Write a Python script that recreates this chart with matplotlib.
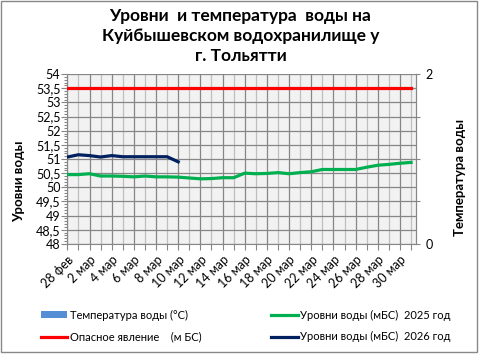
"""Уровни и температура воды на Куйбышевском водохранилище у г. Тольятти (март)."""

import matplotlib

matplotlib.use("Agg")
import matplotlib.pyplot as plt
from matplotlib.lines import Line2D
from matplotlib.patches import Patch, Rectangle
from matplotlib.ticker import FixedLocator, MultipleLocator

plt.rcParams["font.family"] = ["Lato", "DejaVu Sans"]

# 28 фев .. 31 мар
dates = ["28 фев"] + [f"{d} мар" for d in range(1, 32)]
level_2025 = [50.45, 50.45, 50.48, 50.40, 50.40, 50.39, 50.37, 50.40, 50.37, 50.37,
              50.36, 50.33, 50.30, 50.31, 50.34, 50.34, 50.50, 50.48, 50.49, 50.52,
              50.48, 50.52, 50.55, 50.63, 50.63, 50.63, 50.63, 50.71, 50.78, 50.81,
              50.85, 50.88]
level_2026 = [51.07, 51.15, 51.12, 51.07, 51.12, 51.08, 51.08, 51.08, 51.08, 51.08, 50.90]
danger_level = [53.5] * len(dates)
water_temp = []  # пока нет данных

C_TEMP = "#558ED5"
C_DANGER = "#FF0000"
C_2025 = "#00B050"
C_2026 = "#002060"

fig = plt.figure(figsize=(4.81, 3.55), dpi=100)
ax = fig.add_axes([0.140, 0.3127, 0.725, 0.4788])
ax.set_facecolor("#F2F2F2")

x = list(range(len(dates)))
ax.plot(x, danger_level, color=C_DANGER, lw=2.3, zorder=3)
ax.plot(x[:len(level_2025)], level_2025, color=C_2025, lw=2.3, zorder=3)
ax.plot(x[:len(level_2026)], level_2026, color=C_2026, lw=2.3, zorder=3)

ax.set_xlim(0, 31.45)
ax.set_ylim(48, 54)
ax.yaxis.set_major_locator(MultipleLocator(0.5))
ax.yaxis.set_minor_locator(MultipleLocator(0.1))
ax.set_yticklabels([f"{v:g}".replace(".", ",") for v in ax.get_yticks()])
ax.xaxis.set_major_locator(FixedLocator(x[::2]))
ax.xaxis.set_minor_locator(FixedLocator(x[1::2]))
ax.set_xticklabels(dates[::2], rotation=45, ha="right", rotation_mode="anchor")
ax.tick_params(axis="both", which="both", direction="out", colors="#868686",
               labelcolor="black", labelsize=9, width=0.8)
ax.tick_params(axis="x", which="both", length=4, pad=3)
ax.tick_params(axis="y", which="major", length=4, pad=1)
ax.tick_params(axis="y", which="minor", length=2)
ax.grid(True, which="major", color="#868686", lw=0.9, zorder=1)
ax.grid(True, which="minor", axis="x", color="#BFBFBF", lw=0.9, zorder=1)
for s in ax.spines.values():
    s.set_color("#868686")
ax.spines["top"].set_visible(False)
ax.set_ylabel("Уровни воды", fontsize=9.5, fontweight="bold")
ax.yaxis.set_label_coords(-0.121, 0.37)

ax2 = ax.twinx()
ax2.bar(x[:len(water_temp)], water_temp, color=C_TEMP)
ax2.set_ylim(0, 2)
ax2.yaxis.set_major_locator(FixedLocator([0, 2]))
ax2.yaxis.set_minor_locator(FixedLocator([0.5, 1, 1.5]))
ax2.tick_params(axis="y", which="both", direction="out", length=3, colors="#868686",
                labelcolor="black", labelsize=9, width=0.8, pad=4)
for s in ax2.spines.values():
    s.set_visible(False)
ax2.spines["right"].set_visible(True)
ax2.spines["right"].set_color("#868686")
ax2.set_ylabel("Температура воды", fontsize=9.5, fontweight="bold")
ax2.yaxis.set_label_coords(1.108, 0.394)

fig.suptitle("Уровни  и температура  воды на\nКуйбышевском водохранилище у\nг. Тольятти",
             x=0.5, y=0.978, fontsize=12.5, fontweight="bold", linespacing=1.32)

handles = [
    Patch(facecolor=C_TEMP),
    Line2D([], [], color=C_DANGER, lw=2.3),
    Line2D([], [], color=C_2025, lw=2.3),
    Line2D([], [], color=C_2026, lw=2.3),
]
labels = ["Температура воды (°C)", "Опасное явление    (м БС)",
          "Уровни воды (мБС)  2025 год", "Уровни воды (мБС)  2026 год"]
fig.legend(handles, labels, ncol=2, loc="upper left", bbox_to_anchor=(0.073, 0.143),
           frameon=False, fontsize=8, borderpad=0, handlelength=2.4, handleheight=0.6,
           handletextpad=0.2, columnspacing=6.3, labelspacing=0.95)

fig.patches.append(Rectangle((0.002, 0.008), 0.990, 0.990, transform=fig.transFigure,
                             fill=False, edgecolor="#888888", lw=1))

fig.savefig("out.png", dpi=100)
